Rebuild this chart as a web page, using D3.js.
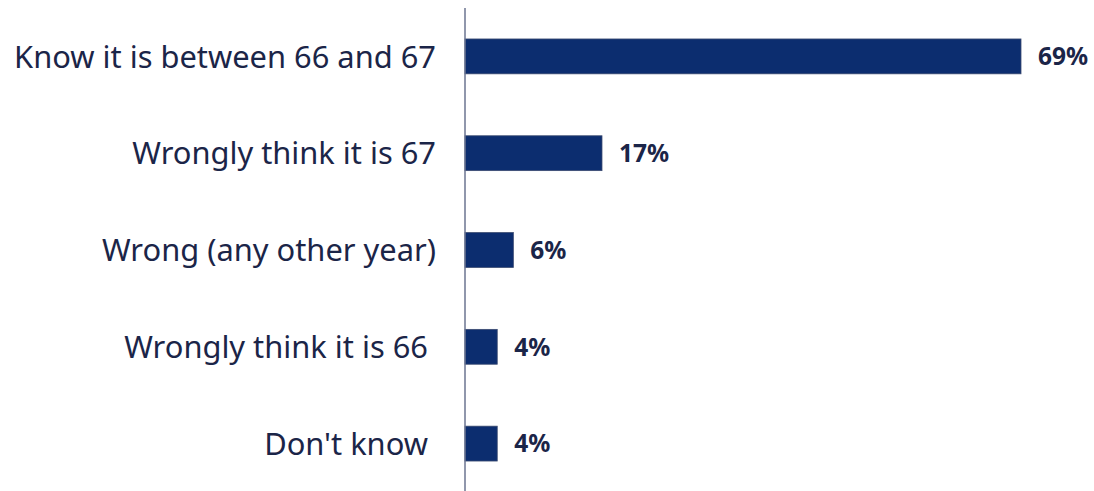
<!DOCTYPE html>
<html>
<head>
<meta charset="utf-8">
<script src="https://cdn.jsdelivr.net/npm/d3@7"></script>
<style>
  html, body { margin: 0; padding: 0; background: #ffffff; }
  svg { display: block; }
  text { white-space: pre; }
</style>
</head>
<body>
<svg id="chart" width="1094" height="491"></svg>
<script>
// Survey answers: what people believe the state pension age is
const categories = [
  "Know it is between 66 and 67",
  "Wrongly think it is 67",
  "Wrong (any other year)",
  "Wrongly think it is 66 ",
  "Don't know "
];
const values = [69, 17, 6, 4, 4];
const valueLabels = ["69%", "17%", "6%", "4%", "4%"];

const width = 1094, height = 491;
const axisX = 465;
const svg = d3.select("#chart");

const x = d3.scaleLinear().domain([0, 69]).range([axisX, 1021]);
const y = d3.scaleBand()
  .domain(categories)
  .range([8, 492])
  .paddingInner(0.64)
  .paddingOuter(0.32);

const barColor = "#0c2d6f";
const textColor = "#1b2548";

// Bars
svg.append("g").selectAll("rect")
  .data(categories)
  .join("rect")
  .attr("x", axisX)
  .attr("y", d => y(d))
  .attr("width", (d, i) => x(values[i]) - axisX)
  .attr("height", y.bandwidth())
  .attr("fill", barColor)
  .attr("stroke", "#3a4a70")
  .attr("stroke-width", 0.8);

// Vertical category axis line
svg.append("line")
  .attr("x1", axisX).attr("x2", axisX)
  .attr("y1", 8).attr("y2", 491)
  .attr("stroke", "#6b7590")
  .attr("stroke-width", 1.5);

// Category labels, right-aligned against the axis
const catG = svg.append("g");
const catLabels = catG.selectAll("text")
  .data(categories)
  .join("text")
  .attr("x", 436)
  .attr("y", d => y(d) + y.bandwidth() / 2)
  .attr("dy", "0.36em")
  .attr("text-anchor", "end")
  .attr("font-family", "'Noto Sans', sans-serif")
  .attr("font-size", 28)
  .attr("fill", textColor)
  .text(d => d);

// Size the category font so the longest label spans the left margin
const longest = catLabels.nodes()[0].getComputedTextLength();
const fs = 28 * 422 / longest;
catLabels.attr("font-size", fs);

// Value labels at the end of each bar
svg.append("g").selectAll("text")
  .data(categories)
  .join("text")
  .attr("x", (d, i) => x(values[i]) + 17)
  .attr("y", d => y(d) + y.bandwidth() / 2)
  .attr("dy", "0.36em")
  .attr("font-family", "'Noto Sans', sans-serif")
  .attr("font-weight", 700)
  .attr("font-size", 24.5)
  .attr("fill", textColor)
  .text((d, i) => valueLabels[i]);
</script>
</body>
</html>
